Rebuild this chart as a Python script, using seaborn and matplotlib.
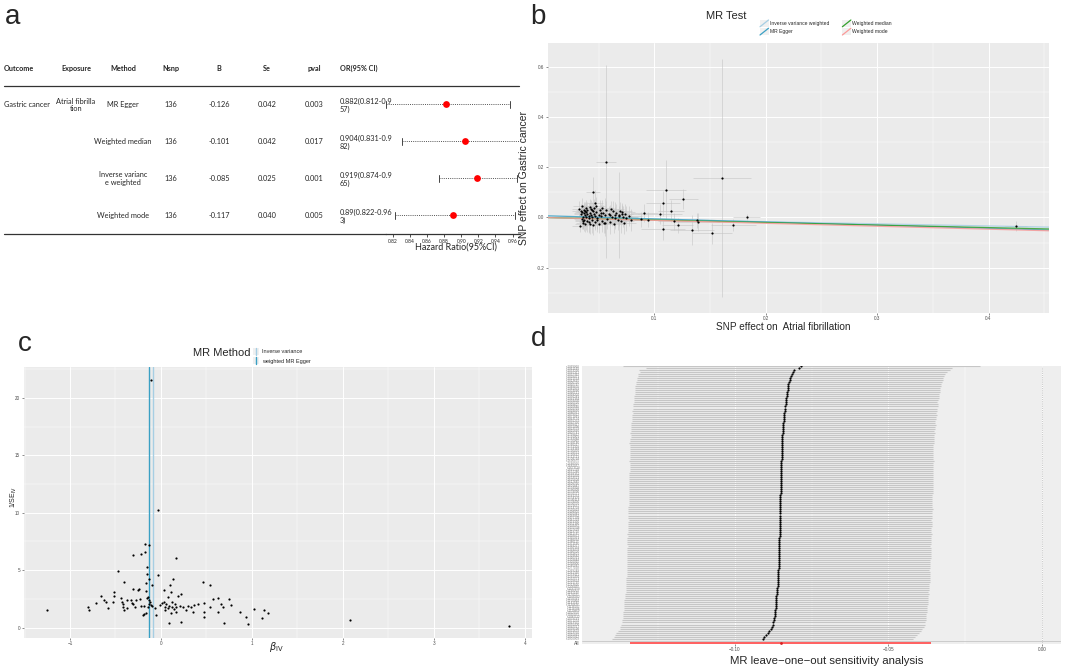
import matplotlib
matplotlib.use("Agg")
import matplotlib.pyplot as plt
from matplotlib.legend_handler import HandlerBase
from matplotlib.lines import Line2D
from matplotlib.patches import Rectangle
from matplotlib.ticker import AutoMinorLocator
import seaborn as sns
import numpy as np

# ---------------- panel a: MR results table ----------------
header = ["Outcome", "Exposure", "Method", "Nsnp", "B", "Se", "pval", "OR(95% CI)"]
outcome = "Gastric cancer"
exposure = "Atrial fibrilla\ntion"
methods = ["MR Egger", "Weighted median", "Inverse varianc\ne weighted", "Weighted mode"]
nsnp = [136, 136, 136, 136]
beta = [-0.126, -0.101, -0.085, -0.117]
se = [0.042, 0.042, 0.025, 0.040]
pval = [0.003, 0.017, 0.001, 0.005]
or_est = [0.882, 0.904, 0.919, 0.89]
or_lo = [0.812, 0.831, 0.874, 0.822]
or_hi = [0.957, 0.982, 0.965, 0.963]
or_text = ["0.882(0.812-0.9\n57)", "0.904(0.831-0.9\n82)",
           "0.919(0.874-0.9\n65)", "0.89(0.822-0.96\n3)"]
hr_ticks = [0.82, 0.84, 0.86, 0.88, 0.90, 0.92, 0.94, 0.96]

# ---------------- panel b: scatter of SNP effects ----------------
snp_bx = [0.032, 0.033, 0.034, 0.034, 0.035, 0.035, 0.035, 0.036, 0.036, 0.037,
          0.037, 0.037, 0.038, 0.038, 0.038, 0.039, 0.039, 0.040, 0.040, 0.040,
          0.041, 0.041, 0.042, 0.042, 0.042, 0.043, 0.043, 0.044, 0.044, 0.045,
          0.045, 0.046, 0.046, 0.047, 0.047, 0.048, 0.048, 0.049, 0.050, 0.050,
          0.051, 0.052, 0.053, 0.053, 0.054, 0.055, 0.056, 0.057, 0.058, 0.059,
          0.060, 0.061, 0.062, 0.063, 0.064, 0.065, 0.066, 0.067, 0.068, 0.069,
          0.070, 0.071, 0.072, 0.073, 0.074, 0.075, 0.077, 0.079, 0.036, 0.039,
          0.041, 0.044, 0.049, 0.052, 0.056, 0.060, 0.065, 0.071,
          0.0563, 0.161, 0.1105, 0.126, 0.108, 0.115, 0.091, 0.105, 0.088, 0.094,
          0.118, 0.121, 0.108, 0.138, 0.139, 0.134, 0.152, 0.171, 0.183, 0.425,
          0.045, 0.047, 0.0686]
snp_by = [0.035, -0.034, 0.012, 0.027, -0.006, 0.021, 0.044, 0.003, -0.021, 0.016,
          0.030, -0.012, 0.008, 0.024, -0.028, 0.001, 0.038, 0.014, -0.016, 0.029,
          0.006, -0.004, 0.019, 0.041, -0.025, 0.010, 0.033, -0.009, 0.002, 0.026,
          -0.031, 0.015, 0.039, 0.005, -0.018, 0.022, 0.047, -0.003, 0.011, -0.027,
          0.031, 0.004, 0.036, -0.014, 0.018, -0.024, 0.009, 0.028, -0.007, 0.013,
          -0.020, 0.034, 0.002, 0.024, -0.026, 0.011, 0.016, -0.009, 0.006, 0.027,
          -0.015, 0.012, 0.003, -0.022, 0.014, -0.004, 0.005, -0.011, -0.013, 0.020,
          -0.019, 0.031, -0.010, 0.017, -0.022, 0.008, -0.002, 0.021,
          0.222, 0.157, 0.109, 0.073, 0.056, 0.025, 0.018, 0.012, -0.008, -0.009,
          -0.016, -0.031, -0.048, -0.012, -0.018, -0.051, -0.064, -0.031, 0.002, -0.036,
          0.102, 0.059, 0.011]
snp_sx = [0.006, 0.007, 0.006, 0.008, 0.007, 0.006, 0.008, 0.007, 0.006, 0.009,
          0.007, 0.008, 0.006, 0.007, 0.009, 0.008, 0.006, 0.007, 0.008, 0.006,
          0.009, 0.007, 0.008, 0.006, 0.007, 0.010, 0.008, 0.007, 0.009, 0.006,
          0.008, 0.007, 0.010, 0.008, 0.009, 0.007, 0.008, 0.010, 0.009, 0.008,
          0.010, 0.009, 0.011, 0.008, 0.010, 0.009, 0.011, 0.010, 0.009, 0.011,
          0.010, 0.012, 0.009, 0.011, 0.010, 0.012, 0.011, 0.010, 0.012, 0.011,
          0.012, 0.010, 0.013, 0.011, 0.012, 0.013, 0.012, 0.013, 0.007, 0.008,
          0.009, 0.007, 0.008, 0.010, 0.009, 0.011, 0.010, 0.012,
          0.009, 0.026, 0.018, 0.013, 0.015, 0.012, 0.012, 0.020, 0.010, 0.012,
          0.015, 0.014, 0.020, 0.016, 0.020, 0.020, 0.018, 0.020, 0.012, 0.010,
          0.006, 0.007, 0.008]
snp_sy = [0.030, 0.025, 0.035, 0.028, 0.040, 0.030, 0.032, 0.045, 0.026, 0.038,
          0.030, 0.042, 0.028, 0.036, 0.030, 0.050, 0.033, 0.029, 0.044, 0.031,
          0.037, 0.060, 0.030, 0.034, 0.041, 0.028, 0.036, 0.055, 0.032, 0.030,
          0.039, 0.027, 0.035, 0.048, 0.031, 0.038, 0.033, 0.042, 0.029, 0.036,
          0.040, 0.030, 0.034, 0.045, 0.032, 0.038, 0.070, 0.036, 0.041, 0.033,
          0.045, 0.031, 0.038, 0.040, 0.035, 0.050, 0.036, 0.042, 0.039, 0.034,
          0.046, 0.037, 0.041, 0.044, 0.038, 0.049, 0.040, 0.045, 0.035, 0.043,
          0.038, 0.032, 0.047, 0.036, 0.052, 0.040, 0.044, 0.037,
          0.385, 0.475, 0.120, 0.040, 0.050, 0.045, 0.035, 0.040, 0.030, 0.030,
          0.035, 0.030, 0.040, 0.030, 0.035, 0.060, 0.040, 0.025, 0.012, 0.020,
          0.060, 0.050, 0.172]
egger_intercept = 0.007
line_methods = ["Inverse variance weighted", "MR Egger", "Weighted median", "Weighted mode"]
line_slopes = [beta[2], beta[0], beta[1], beta[3]]
line_intercepts = [0.0, egger_intercept, 0.0, 0.0]
line_colors = ["#a6cee3", "#3aa0c4", "#33a02c", "#fb9a99"]

# ---------------- panel c: funnel plot ----------------
c_beta = [-0.104, -0.03, -0.18, -0.133, -0.178, -0.311, -0.222, 0.163, -0.47, -0.156,
          -0.156, -0.03, -0.133, 0.137, -0.407, 0.467, -0.163, 0.537, -0.1, 0.096,
          -0.237, -0.307, -0.248, 0.037, -0.511, 0.107, -0.159, -0.515, -0.656, -0.437,
          -0.152, 0.222, 0.081, 0.185, 0.626, 0.752, 0.578, -0.63, -0.33, -0.274,
          -0.37, -0.23, -0.13, -0.715, -0.604, -0.526, -0.433, -0.422, -0.319, -0.304,
          -0.222, -0.189, -0.137, -0.107, -0.015, 0.015, 0.037, 0.059, 0.093, 0.122,
          0.156, 0.17, 0.207, 0.248, 0.293, 0.33, 0.363, 0.411, 0.478, 0.659,
          0.681, 0.77, -0.804, -0.796, -1.248, -0.585, -0.415, -0.407, -0.289, -0.37,
          -0.2, -0.185, -0.163, -0.056, 0.115, 0.17, 0.274, 0.352, 0.47, 0.474,
          0.544, 0.63, 0.874, 0.933, 0.959, 1.022, 1.137, 1.111, 1.181, 0.093,
          0.226, 0.689, 2.078, 3.826, -0.126, -0.119, -0.141, -0.1, -0.07, 0.04,
          0.048, 0.078, 0.126, 0.144]
c_prec = [21.57, 10.2, 7.27, 7.21, 6.57, 6.31, 6.37, 6.08, 4.94, 5.29,
          4.71, 4.62, 4.27, 4.22, 3.98, 3.98, 3.92, 3.72, 3.75, 3.69,
          3.37, 3.40, 3.28, 3.31, 3.14, 3.14, 3.2, 2.73, 2.73, 2.62,
          2.62, 2.97, 2.67, 2.73, 2.59, 2.47, 2.5, 2.38, 2.44, 2.38,
          2.44, 2.5, 2.41, 2.12, 2.27, 2.24, 2.21, 2.09, 2.15, 2.03,
          1.92, 1.89, 1.8, 1.95, 2.0, 2.12, 2.21, 2.09, 1.92, 2.24,
          2.09, 1.8, 1.89, 1.77, 1.89, 1.77, 1.95, 2.03, 2.12, 2.09,
          1.83, 1.95, 1.83, 1.57, 1.51, 1.74, 1.8, 1.51, 1.83, 1.69,
          1.08, 1.16, 1.28, 1.08, 1.28, 1.37, 1.57, 1.34, 1.37, 0.93,
          1.8, 1.37, 1.34, 0.96, 0.29, 1.66, 1.51, 0.87, 1.28, 0.41,
          0.47, 0.41, 0.7, 0.12, 2.09, 2.24, 2.65, 1.86, 1.74, 1.8,
          1.51, 1.72, 1.83, 1.63]

# ---------------- panel d: leave-one-out (bottom row first) ----------------
loo_b = [-0.0909, -0.0904, -0.0898, -0.0893, -0.0887, -0.0881, -0.0878, -0.0876, -0.0874, -0.0872,
         -0.0871, -0.0870, -0.0870, -0.0869, -0.0868, -0.0867, -0.0867, -0.0866, -0.0865, -0.0865,
         -0.0864, -0.0864, -0.0863, -0.0862, -0.0861, -0.0861, -0.0860, -0.0860, -0.0859, -0.0859,
         -0.0859, -0.0858, -0.0858, -0.0858, -0.0858, -0.0857, -0.0857, -0.0857, -0.0857, -0.0857,
         -0.0856, -0.0856, -0.0856, -0.0856, -0.0856, -0.0855, -0.0855, -0.0855, -0.0855, -0.0855,
         -0.0855, -0.0854, -0.0854, -0.0854, -0.0854, -0.0854, -0.0853, -0.0853, -0.0853, -0.0853,
         -0.0853, -0.0852, -0.0852, -0.0852, -0.0852, -0.0852, -0.0851, -0.0851, -0.0851, -0.0851,
         -0.0851, -0.0851, -0.0850, -0.0850, -0.0850, -0.0850, -0.0850, -0.0849, -0.0849, -0.0849,
         -0.0849, -0.0849, -0.0849, -0.0848, -0.0848, -0.0848, -0.0848, -0.0848, -0.0848, -0.0847,
         -0.0847, -0.0847, -0.0847, -0.0847, -0.0847, -0.0847, -0.0847, -0.0847, -0.0846, -0.0846,
         -0.0845, -0.0845, -0.0844, -0.0844, -0.0843, -0.0843, -0.0842, -0.0842, -0.0841, -0.0840,
         -0.0840, -0.0839, -0.0838, -0.0837, -0.0836, -0.0835, -0.0834, -0.0834, -0.0833, -0.0832,
         -0.0831, -0.0830, -0.0829, -0.0828, -0.0827, -0.0826, -0.0825, -0.0823, -0.0821, -0.0819,
         -0.0816, -0.0815, -0.0810, -0.0806, -0.0792, -0.0783]
loo_se = [0.0250, 0.0250, 0.0251, 0.0251, 0.0251, 0.0251, 0.0252, 0.0252, 0.0252, 0.0252,
          0.0252, 0.0252, 0.0251, 0.0252, 0.0252, 0.0252, 0.0252, 0.0253, 0.0252, 0.0252,
          0.0252, 0.0252, 0.0252, 0.0251, 0.0252, 0.0252, 0.0252, 0.0252, 0.0252, 0.0253,
          0.0252, 0.0252, 0.0252, 0.0252, 0.0251, 0.0252, 0.0252, 0.0252, 0.0252, 0.0252,
          0.0253, 0.0252, 0.0252, 0.0252, 0.0252, 0.0252, 0.0251, 0.0252, 0.0252, 0.0252,
          0.0252, 0.0252, 0.0253, 0.0252, 0.0252, 0.0252, 0.0252, 0.0252, 0.0252, 0.0251,
          0.0252, 0.0252, 0.0252, 0.0252, 0.0253, 0.0252, 0.0252, 0.0252, 0.0252, 0.0252,
          0.0252, 0.0251, 0.0252, 0.0252, 0.0252, 0.0252, 0.0252, 0.0253, 0.0252, 0.0252,
          0.0252, 0.0252, 0.0252, 0.0252, 0.0251, 0.0252, 0.0252, 0.0252, 0.0253, 0.0252,
          0.0252, 0.0252, 0.0252, 0.0252, 0.0252, 0.0252, 0.0252, 0.0253, 0.0252, 0.0252,
          0.0252, 0.0252, 0.0253, 0.0252, 0.0252, 0.0252, 0.0253, 0.0252, 0.0252, 0.0253,
          0.0252, 0.0253, 0.0252, 0.0253, 0.0252, 0.0253, 0.0253, 0.0252, 0.0253, 0.0253,
          0.0253, 0.0253, 0.0253, 0.0253, 0.0253, 0.0254, 0.0253, 0.0254, 0.0254, 0.0254,
          0.0254, 0.0255, 0.0255, 0.0258, 0.0254, 0.0297]
all_b = beta[2]
all_se = se[2]
snp_ids = ["rs%d" % (1000003 + 7919 * k) for k in range(len(loo_b))]

W, H = 1065, 670


def box(x0, y0, x1, y1):
    return [x0 / W, 1 - y1 / H, (x1 - x0) / W, (y1 - y0) / H]


class KeyHandler(HandlerBase):
    def __init__(self, vertical=False):
        super().__init__()
        self.vertical = vertical

    def create_artists(self, legend, orig, xd, yd, w, h, fontsize, trans):
        x0, y0 = -xd, -yd
        bg = Rectangle((x0, y0), w, h, facecolor="#f0f0f0", edgecolor="none", transform=trans)
        if self.vertical:
            xs, ys = [x0 + w / 2, x0 + w / 2], [y0, y0 + h]
        else:
            xs, ys = [x0, x0 + w], [y0, y0 + h]
        ln = Line2D(xs, ys, color=orig.get_color(), lw=orig.get_linewidth(), transform=trans)
        return [bg, ln]


sns.set_theme(style="darkgrid", rc={"axes.facecolor": "#ebebeb", "grid.color": "white"})
plt.rcParams["font.family"] = ["Liberation Sans", "DejaVu Sans"]

fig = plt.figure(figsize=(W / 100, H / 100), dpi=100)
fig.patch.set_facecolor("white")


def gg_axes(ax):
    for s in ax.spines.values():
        s.set_visible(False)
    ax.xaxis.set_minor_locator(AutoMinorLocator(2))
    ax.yaxis.set_minor_locator(AutoMinorLocator(2))
    ax.grid(which="major", color="white", lw=0.7)
    ax.grid(which="minor", color="white", lw=0.35)
    ax.tick_params(which="major", length=1.5, width=0.4, color="#333333", labelsize=3.3,
                   labelcolor="#4d4d4d", pad=1, bottom=True, left=True)
    ax.tick_params(which="minor", length=0)


# ---- a: table ----
tfont = ["Lato", "DejaVu Sans"]
ax_t = fig.add_axes(box(0, 86, 530, 234))
ax_t.set_xlim(0, 530)
ax_t.set_ylim(3.5, -0.5)
ax_t.axis("off")
col_x = [4, 76, 123, 171, 219, 267, 314, 340]
col_ha = ["left", "center", "center", "center", "center", "center", "center", "left"]
for txt, x, ha in zip(header, col_x, col_ha):
    ax_t.text(x, -0.98, txt, ha=ha, va="center", fontsize=5.2, fontweight="bold", family=tfont)
ax_t.plot([4, 519], [-0.5, -0.5], color="#333333", lw=0.9, clip_on=False)
ax_t.plot([4, 386], [3.5, 3.5], color="#333333", lw=0.9, clip_on=False)
ax_t.text(col_x[0], 0, outcome, ha="left", va="center", fontsize=5.3, family=tfont)
ax_t.text(col_x[1], 0.02, exposure, ha="center", va="center", fontsize=5.3, family=tfont,
          linespacing=1.05)
for i in range(len(methods)):
    vals = [methods[i], str(nsnp[i]), "%.3f" % beta[i], "%.3f" % se[i], "%.3f" % pval[i]]
    for v, x in zip(vals, col_x[2:7]):
        ax_t.text(x, i, v, ha="center", va="center", fontsize=5.3, family=tfont, linespacing=1.05)
    ax_t.text(col_x[7], i + 0.03, or_text[i], ha="left", va="center", fontsize=5.3,
              family=tfont, linespacing=1.05)

# ---- a: forest ----
ax_f = fig.add_axes(box(386, 86, 520, 234))
ax_f.set_facecolor("none")
ax_f.grid(False)
ax_f.set_xlim(0.812, 0.9687)
ax_f.set_ylim(3.5, -0.5)
rows = np.arange(len(methods))
ax_f.hlines(rows, or_lo, or_hi, color="#555555", lw=0.7, linestyles=(0, (1, 1.2)))
for lo, hi, r in zip(or_lo, or_hi, rows):
    ax_f.plot([lo, lo], [r - 0.09, r + 0.09], color="#444444", lw=0.7)
    ax_f.plot([hi, hi], [r - 0.09, r + 0.09], color="#444444", lw=0.7)
sns.scatterplot(x=or_est, y=rows, color="red", s=24, linewidth=0, ax=ax_f, zorder=5)
for side in ["top", "right", "left"]:
    ax_f.spines[side].set_visible(False)
ax_f.spines["bottom"].set_color("#333333")
ax_f.spines["bottom"].set_linewidth(0.9)
ax_f.set_yticks([])
ax_f.set_xticks(hr_ticks)
ax_f.set_xticklabels(["%.2f" % t for t in hr_ticks], family=tfont)
ax_f.tick_params(axis="x", length=2.5, width=0.6, color="#333333", labelsize=3.6, pad=1,
                 bottom=True)
ax_f.set_xlabel("Hazard Ratio(95%CI)", fontsize=6.5, family=tfont, labelpad=0)
ax_f.xaxis.set_label_coords(0.52, -0.055)

# ---- b: scatter ----
ax_b = fig.add_axes(box(548, 43, 1049, 313))
gg_axes(ax_b)
ax_b.set_xlim(0.0046, 0.4543)
ax_b.set_ylim(-0.381, 0.6955)
ax_b.set_xticks([0.1, 0.2, 0.3, 0.4])
ax_b.set_yticks([-0.2, 0.0, 0.2, 0.4, 0.6])
ax_b.set_xticklabels(["0.1", "0.2", "0.3", "0.4"])
ax_b.set_yticklabels(["-0.2", "0.0", "0.2", "0.4", "0.6"])
bx = np.array(snp_bx)
by = np.array(snp_by)
ax_b.hlines(by, bx - np.array(snp_sx), bx + np.array(snp_sx), color="#c4c4c4", lw=0.5, alpha=0.8)
ax_b.vlines(bx, by - np.array(snp_sy), by + np.array(snp_sy), color="#c4c4c4", lw=0.5, alpha=0.8)
xs = np.array(ax_b.get_xlim())
handles = []
for name, a, b, c in zip(line_methods, line_intercepts, line_slopes, line_colors):
    h, = ax_b.plot(xs, a + b * xs, color=c, lw=0.9, alpha=0.85, label=name)
    handles.append(h)
sns.scatterplot(x=bx, y=by, color="black", s=2.5, linewidth=0, ax=ax_b, zorder=4)
ax_b.set_xlabel("SNP effect on  Atrial fibrillation", fontsize=7.2)
ax_b.xaxis.set_label_coords(0.47, -0.035)
ax_b.set_ylabel("SNP effect on Gastric cancer", fontsize=7.5)
ax_b.yaxis.set_label_coords(-0.038, 0.5)
ax_b.legend(handles, line_methods, loc="upper left", bbox_to_anchor=(760 / W, 1 - 20 / H),
            bbox_transform=fig.transFigure, ncol=2, frameon=False, fontsize=3.6,
            handlelength=1.7, handleheight=1.7, handletextpad=0.3, columnspacing=2.6,
            labelspacing=0.3, borderaxespad=0, borderpad=0,
            handler_map={Line2D: KeyHandler()})
fig.text(706 / W, 1 - 19 / H, "MR Test", fontsize=8, va="baseline")

# ---- c: funnel ----
ax_c = fig.add_axes(box(23.6, 367, 532, 638))
gg_axes(ax_c)
ax_c.set_xlim(-1.51, 4.08)
ax_c.set_ylim(-0.9, 22.68)
ax_c.set_xticks([-1, 0, 1, 2, 3, 4])
ax_c.set_yticks([0, 5, 10, 15, 20])
ivw_line = ax_c.axvline(beta[2], color="#a6cee3", lw=1.0)
egger_line = ax_c.axvline(beta[0], color="#3aa0c4", lw=1.0)
sns.scatterplot(x=c_beta, y=c_prec, color="black", s=2.5, linewidth=0, ax=ax_c, zorder=4)
ax_c.set_xlabel(r"$\beta_{\mathrm{IV}}$", fontsize=7)
ax_c.xaxis.set_label_coords(0.497, -0.008)
ax_c.set_ylabel(r"1/SE$_{\mathrm{IV}}$", fontsize=5)
ax_c.yaxis.set_label_coords(-0.01, 0.52)
ax_c.legend([ivw_line, egger_line], ["Inverse variance", "weighted MR Egger"],
            loc="upper left", bbox_to_anchor=(253 / W, 1 - 348 / H),
            bbox_transform=fig.transFigure, frameon=False, fontsize=4, handlelength=1.1,
            handleheight=1.5, handletextpad=0.5, labelspacing=0.45, borderaxespad=0,
            borderpad=0, handler_map={Line2D: KeyHandler(vertical=True)})
fig.text(193 / W, 1 - 356 / H, "MR Method", fontsize=8, va="baseline")

# ---- d: leave-one-out ----
ax_d = fig.add_axes(box(582, 365.5, 1061, 644))
gg_axes(ax_d)
ax_d.set_facecolor("#eeeeee")
ax_d.grid(which="both", axis="y", visible=False)
ax_d.set_xlim(-0.1497, 0.0062)
ax_d.set_ylim(-0.65, len(loo_b) + 1.3)
pos = np.arange(len(loo_b)) + 2
lb = np.array(loo_b)
ls = np.array(loo_se)
ax_d.axhline(1, color="#bebebe", lw=0.5)
ax_d.axvline(0, color="#9a9a9a", lw=0.5, ls=":")
ax_d.hlines(pos, lb - 1.96 * ls, lb + 1.96 * ls, color="#c6c6c6", lw=0.8)
ax_d.hlines(0, all_b - 1.96 * all_se, all_b + 1.96 * all_se, color="#ff6060", lw=1.4)
sns.scatterplot(x=lb, y=pos, color="black", s=2.5, linewidth=0, ax=ax_d, zorder=4)
sns.scatterplot(x=[all_b], y=[0], color="#d62020", s=4, linewidth=0, ax=ax_d, zorder=4)
ax_d.set_xticks([-0.10, -0.05, 0.00])
ax_d.set_xticklabels(["\u22120.10", "\u22120.05", "0.00"])
ax_d.set_yticks(np.concatenate([[0], pos]))
ax_d.set_yticklabels(["All"] + snp_ids, fontsize=2.2, color="#8a8a8a")
ax_d.get_yticklabels()[0].set_fontsize(3.5)
ax_d.get_yticklabels()[0].set_color("#4d4d4d")
ax_d.tick_params(axis="y", length=0, pad=1.5)
ax_d.set_xlabel("MR leave\u2212one\u2212out sensitivity analysis", fontsize=8.2)
ax_d.xaxis.set_label_coords(0.511, -0.043)

# panel letters
for letter, x, y in [("a", 5, 24), ("b", 530, 24), ("c", 18, 351), ("d", 531, 346)]:
    fig.text(x / W, 1 - y / H, letter, fontsize=20, va="baseline")

fig.savefig("out.png", dpi=100)
